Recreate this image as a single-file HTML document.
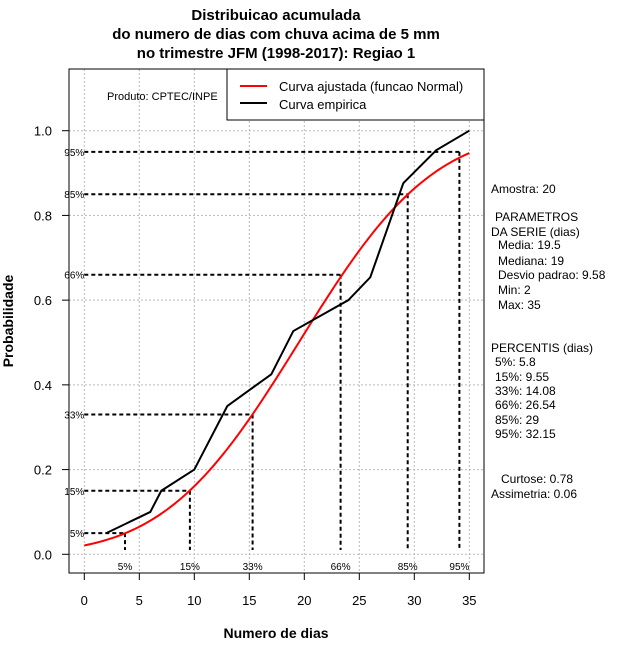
<!DOCTYPE html>
<html><head><meta charset="utf-8"><style>
html,body{margin:0;padding:0;background:#fff;}
svg{display:block;font-family:"Liberation Sans","DejaVu Sans",sans-serif;}
</style></head><body>
<svg id="chart" width="640" height="660" viewBox="0 0 640 660" xmlns="http://www.w3.org/2000/svg">
<g font-size="15" font-weight="bold" text-anchor="middle">
<text x="276" y="20">Distribuicao acumulada</text>
<text x="276" y="39">do numero de dias com chuva acima de 5 mm</text>
<text x="276" y="58">no trimestre JFM (1998-2017): Regiao 1</text>
</g>
<g id="grid"></g>
<g id="pct"></g>
<g id="series"></g>
<rect x="69" y="69" width="415" height="504" fill="none" stroke="#000" stroke-width="1"/>
<g id="axes" font-size="13"></g>
<text x="276" y="638" font-size="14" font-weight="bold" text-anchor="middle">Numero de dias</text>
<text transform="translate(13,321) rotate(-90)" font-size="14" font-weight="bold" text-anchor="middle">Probabilidade</text>
<text x="107" y="100" font-size="11">Produto: CPTEC/INPE</text>
<g>
<rect x="227" y="69" width="257" height="51" fill="#fff" stroke="#000"/>
<line x1="240" y1="86" x2="267" y2="86" stroke="#f00" stroke-width="2"/>
<text x="279" y="91" font-size="13">Curva ajustada (funcao Normal)</text>
<line x1="240" y1="103" x2="267" y2="103" stroke="#000" stroke-width="2"/>
<text x="279" y="109" font-size="13">Curva empirica</text>
</g>
<g font-size="12">
<text x="491" y="193">Amostra: 20</text>
<text x="495" y="221">PARAMETROS</text>
<text x="491" y="236">DA SERIE (dias)</text>
<text x="498" y="249">Media: 19.5</text>
<text x="498" y="265">Mediana: 19</text>
<text x="498" y="279">Desvio padrao: 9.58</text>
<text x="498" y="294">Min: 2</text>
<text x="498" y="309">Max: 35</text>
<text x="491" y="352">PERCENTIS (dias)</text>
<text x="495" y="366">5%: 5.8</text>
<text x="495" y="381">15%: 9.55</text>
<text x="495" y="395">33%: 14.08</text>
<text x="495" y="409">66%: 26.54</text>
<text x="495" y="424">85%: 29</text>
<text x="495" y="438">95%: 32.15</text>
<text x="501" y="483">Curtose: 0.78</text>
<text x="491" y="498">Assimetria: 0.06</text>
</g>
</svg>
<script>
const empX=[2,6,7,10,13,17,19,24,26,29,32,35];
const empY=[0.05,0.10,0.15,0.20,0.35,0.425,0.527,0.60,0.654,0.876,0.954,1.0];
const fitMean=19.5;
const fitSd=9.58;
const pctLevels=[0.05,0.15,0.33,0.66,0.85,0.95];
const pctQuant=[3.7,9.6,15.3,23.3,29.4,34.1];
const pctLabels=["5%","15%","33%","66%","85%","95%"];
const xTicks=[0,5,10,15,20,25,30,35];
const yTicks=[0,0.2,0.4,0.6,0.8,1.0];
const yTickLabels=["0.0","0.2","0.4","0.6","0.8","1.0"];

const NS="http://www.w3.org/2000/svg";
const X=v=>84.3+v*11.0;
const Y=v=>554.3-v*423.6;
function mk(tag,attrs,parent,txt){const e=document.createElementNS(NS,tag);for(const k in attrs)e.setAttribute(k,attrs[k]);if(txt!==undefined)e.textContent=txt;parent.appendChild(e);return e;}
const grid=document.getElementById('grid'),axes=document.getElementById('axes'),pct=document.getElementById('pct'),series=document.getElementById('series');
xTicks.forEach(t=>{
 const g=mk('line',{x1:X(t),x2:X(t),y1:69,y2:573,stroke:'#bbb','stroke-dasharray':'2,2'},grid);
 
 
 const tk=mk('line',{x1:X(t),x2:X(t),y1:573,y2:580,stroke:'#000'},axes);
 
 
 const lb=mk('text',{x:X(t),y:605,'text-anchor':'middle'},axes,String(t));
 
 
});
yTicks.forEach((t,i)=>{
 const g=mk('line',{x1:69,x2:484,y1:Y(t),y2:Y(t),stroke:'#bbb','stroke-dasharray':'2,2'},grid);
 
 
 const tk=mk('line',{x1:62,x2:69,y1:Y(t),y2:Y(t),stroke:'#000'},axes);
 
 
 const lb=mk('text',{x:52,y:Y(t)+5,'text-anchor':'end'},axes,yTickLabels[i]);
 
 
});
pctLevels.forEach((p,i)=>{
 const q=pctQuant[i];
 const h=mk('line',{x1:X(0),x2:X(q),y1:Y(p),y2:Y(p),stroke:'#000','stroke-width':2,'stroke-dasharray':'4,3'},pct);
 
 
 const v=mk('line',{x1:X(q),x2:X(q),y1:Y(p),y2:550,stroke:'#000','stroke-width':2,'stroke-dasharray':'4,3'},pct);
 
 
 const l1=mk('text',{x:X(0),y:Y(p)+4,'text-anchor':'end','font-size':10},pct,pctLabels[i]);
 
 
 const l2=mk('text',{x:X(q),y:570,'text-anchor':'middle','font-size':10},pct,pctLabels[i]);
 
 
});
function erf(x){const s=Math.sign(x);x=Math.abs(x);const t=1/(1+0.3275911*x);const y=1-(((((1.061405429*t-1.453152027)*t)+1.421413741)*t-0.284496736)*t+0.254829592)*t*Math.exp(-x*x);return s*y;}
let d='';
for(let i=0;i<=140;i++){const x=i*35/140;const p=0.5*(1+erf((x-fitMean)/(fitSd*Math.SQRT2)));d+=(i?'L':'M')+X(x).toFixed(2)+','+Y(p).toFixed(2);}
const red=mk('path',{d:d,fill:'none',stroke:'#f00','stroke-width':2},series);


const blk=mk('polyline',{points:empX.map((x,i)=>X(x)+','+Y(empY[i])).join(' '),fill:'none',stroke:'#000','stroke-width':2},series);


</script>
</body></html>
